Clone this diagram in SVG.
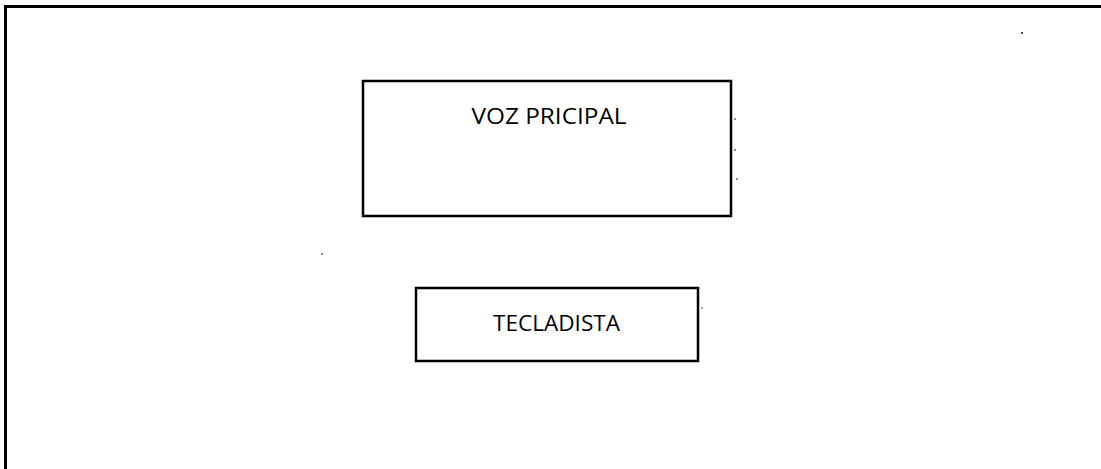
<svg xmlns="http://www.w3.org/2000/svg" width="1101" height="469" viewBox="0 0 1101 469">
  <style>
    .box { fill: #ffffff; stroke: #000000; stroke-width: 2.5; }
    .lbl { font-family: "Open Sans", "Liberation Sans", sans-serif; font-size: 22px; font-weight: 500; fill: #000000; text-anchor: middle; }
    .frame { fill: none; stroke: #000000; stroke-width: 3; }
    .speck { fill: #000000; }
  </style>
  <rect x="0" y="0" width="1101" height="469" fill="#ffffff"/>
  <path class="frame" d="M5.5,469 V6.5 H1101"/>
  <g id="connectors"></g>
  <g id="node-voz-principal">
    <rect class="box" x="363" y="81" width="368" height="135"/>
    <text class="lbl" x="549" y="124" textLength="155" lengthAdjust="spacingAndGlyphs">VOZ PRICIPAL</text>
  </g>
  <g id="node-tecladista">
    <rect class="box" x="416" y="288" width="282" height="73"/>
    <text class="lbl" x="556.5" y="331" textLength="127" lengthAdjust="spacingAndGlyphs">TECLADISTA</text>
  </g>
  <g id="specks">
    <circle class="speck" cx="735" cy="119" r="0.8"/>
    <circle class="speck" cx="735" cy="150" r="0.8"/>
    <circle class="speck" cx="737" cy="179" r="0.8"/>
    <circle class="speck" cx="1022" cy="33" r="0.9"/>
    <circle class="speck" cx="322" cy="254" r="0.8"/>
    <circle class="speck" cx="702" cy="308" r="0.7"/>
  </g>
</svg>
